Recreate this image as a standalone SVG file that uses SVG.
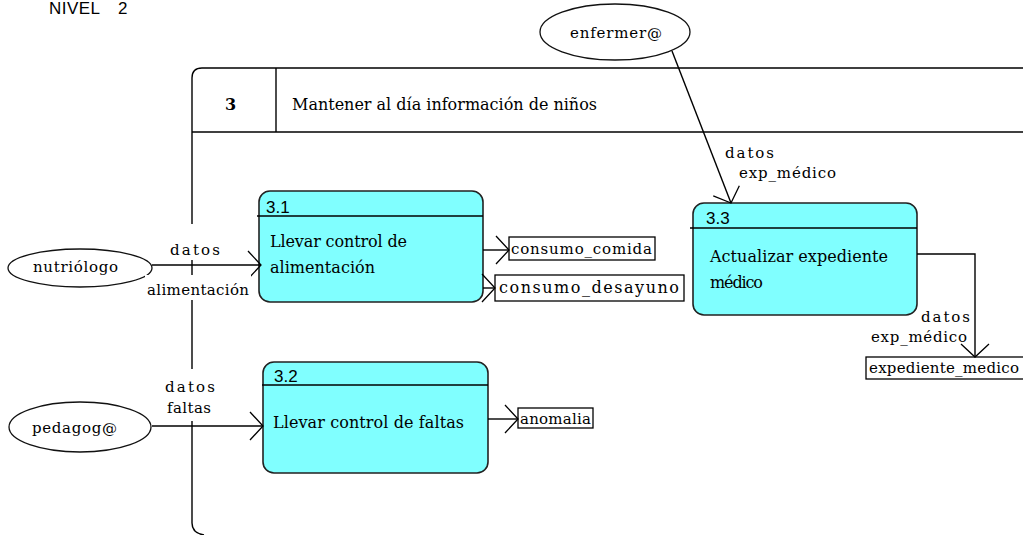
<svg xmlns="http://www.w3.org/2000/svg" width="1023" height="535" viewBox="0 0 1023 535">
<style>
.ln{fill:none;stroke:#000;stroke-width:1.4}
.proc{fill:#80ffff;stroke:#222;stroke-width:1.6}
.ent{fill:#fff;stroke:#111;stroke-width:1.3}
.store{fill:#fff;stroke:#000;stroke-width:1.3}
.t{font-family:"DejaVu Serif","Liberation Serif",serif;font-size:16px;fill:#000}
.s{font-family:"DejaVu Serif","Liberation Serif",serif;font-size:15px;fill:#000}
.n{font-family:"Liberation Sans",Arial,sans-serif;font-size:17px;fill:#000}
.bg{fill:#fff;stroke:none}
</style>
<defs>
<marker id="arr" markerUnits="userSpaceOnUse" markerWidth="18" markerHeight="32" refX="14" refY="15" orient="auto">
<path d="M1,1 L14,15 L1,29" fill="none" stroke="#000" stroke-width="1.3"/>
</marker>
</defs>

<g id="title">
<text class="n" x="49" y="14" font-size="18" textLength="51">NIVEL</text>
<text class="n" x="118" y="14" font-size="18">2</text>
</g>

<g id="frame">
<path class="ln" d="M1023,68 L202,68 Q192,68 192,78 L192,523 Q192,533 204,535"/>
<line class="ln" x1="276" y1="68" x2="276" y2="132"/>
<line class="ln" x1="192" y1="132" x2="1023" y2="132"/>
<text class="t" x="225" y="110" font-weight="bold">3</text>
<text class="t" x="292" y="110" textLength="305">Mantener al día información de niños</text>
</g>

<g id="ent-enfermera">
<ellipse class="ent" cx="615" cy="32" rx="75" ry="28"/>
<text class="s" x="570" y="38" textLength="92">enfermer@</text>
</g>
<g id="ent-nutriologo">
<ellipse class="ent" cx="80" cy="268" rx="72" ry="19"/>
<text class="s" x="33" y="272" textLength="85">nutriólogo</text>
</g>
<g id="ent-pedagoga">
<ellipse class="ent" cx="80" cy="427" rx="71" ry="25"/>
<text class="s" x="32" y="433" textLength="85">pedagog@</text>
</g>

<g id="proc-3-1">
<rect class="proc" x="259" y="191" width="224" height="111" rx="11"/>
<line class="ln" x1="257" y1="216" x2="483" y2="216"/>
<text class="n" x="266" y="213">3.1</text>
<text class="t" x="270" y="247" textLength="137">Llevar control de</text>
<text class="t" x="270" y="273" textLength="105">alimentación</text>
</g>
<g id="proc-3-2">
<rect class="proc" x="263" y="362" width="225" height="111" rx="11"/>
<line class="ln" x1="262" y1="385" x2="488" y2="385"/>
<text class="n" x="274" y="382">3.2</text>
<text class="t" x="273" y="428" textLength="191">Llevar control de faltas</text>
</g>
<g id="proc-3-3">
<rect class="proc" x="693" y="203" width="224" height="112" rx="11"/>
<line class="ln" x1="690" y1="228" x2="917" y2="228"/>
<text class="n" x="706" y="224">3.3</text>
<text class="t" x="710" y="262" textLength="178">Actualizar expediente</text>
<text class="t" x="710" y="288" textLength="53">médico</text>
</g>

<g id="store-consumo-comida">
<rect class="store" x="509" y="237" width="146" height="23"/>
<text class="s" x="511" y="254" textLength="141">consumo_comida</text>
</g>
<g id="store-consumo-desayuno">
<rect class="store" x="495" y="275" width="189" height="26"/>
<text class="t" x="499" y="293" textLength="180">consumo_desayuno</text>
</g>
<g id="store-anomalia">
<rect class="store" x="518" y="408" width="75" height="20"/>
<text class="s" x="520" y="424" font-size="14" textLength="71">anomalia</text>
</g>
<g id="store-expediente">
<rect class="store" x="866" y="357" width="160" height="22"/>
<text class="s" x="869" y="373" textLength="150">expediente_medico</text>
</g>

<g id="connectors">
<line class="ln" x1="152" y1="265" x2="261" y2="265" marker-end="url(#arr)"/>
<line class="ln" x1="152" y1="426" x2="263" y2="426" marker-end="url(#arr)"/>
<line class="ln" x1="483" y1="250" x2="509" y2="250" marker-end="url(#arr)"/>
<line class="ln" x1="483" y1="288" x2="495" y2="288" marker-end="url(#arr)"/>
<line class="ln" x1="488" y1="419" x2="518" y2="419" marker-end="url(#arr)"/>
<line class="ln" x1="672" y1="51" x2="731" y2="203" marker-end="url(#arr)"/>
<polyline class="ln" points="917,254 975,254 975,357" marker-end="url(#arr)"/>
<rect class="bg" x="166" y="224" width="58" height="36"/>
<rect class="bg" x="145" y="275" width="106" height="25"/>
<rect class="bg" x="162" y="369" width="57" height="52"/>
<text class="s" x="170" y="255" textLength="50">datos</text>
<text class="s" x="147" y="295" textLength="102">alimentación</text>
<text class="s" x="165" y="392" textLength="50">datos</text>
<text class="s" x="167" y="413" textLength="44">faltas</text>
<text class="s" x="725" y="158" textLength="49">datos</text>
<text class="s" x="739" y="178" textLength="97">exp_médico</text>
<text class="s" x="921" y="322" textLength="49">datos</text>
<text class="s" x="871" y="342" textLength="96">exp_médico</text>
</g>
</svg>
